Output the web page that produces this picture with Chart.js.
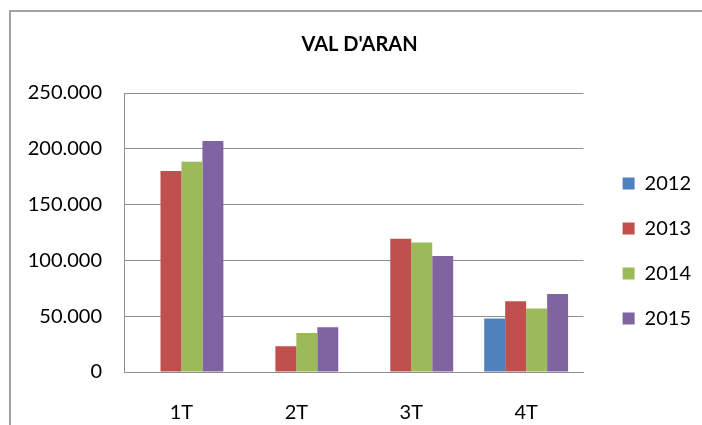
<!DOCTYPE html>
<html>
<head>
<meta charset="utf-8">
<script src="https://cdn.jsdelivr.net/npm/chart.js@4.4.1/dist/chart.umd.min.js"></script>
<style>
  html, body { margin: 0; padding: 0; background: #ffffff; }
  #wrap { position: relative; width: 702px; height: 425px; overflow: hidden; background: #fff; }
  #frame { position: absolute; left: 9px; top: 10px; width: 800px; height: 500px;
           border-left: 2px solid #a3a3a3; border-top: 2px solid #a3a3a3; box-sizing: border-box; }
  canvas { position: absolute; left: 0; top: 0; }
</style>
</head>
<body>
<div id="wrap">
  <div id="frame"></div>
  <canvas id="c" width="702" height="425"></canvas>
</div>
<script>
const chartTitle = "VAL D'ARAN";
const categories = ["1T", "2T", "3T", "4T"];
const seriesNames = ["2012", "2013", "2014", "2015"];
const values2012 = [null, null, null, 48000];
const values2013 = [180000, 23000, 119500, 63500];
const values2014 = [188500, 35000, 116000, 57000];
const values2015 = [207000, 40000, 104000, 70000];
const yTickMax = 250000;
const yTickStep = 50000;
const colors = ["#4F81BD", "#C0504D", "#9BBB59", "#8064A2"];

function fmtThousands(v) {
  return String(Math.round(v)).replace(/\B(?=(\d{3})+(?!\d))/g, ".");
}

const seriesValues = [values2012, values2013, values2014, values2015];

Chart.defaults.font.family = "Lato";
Chart.defaults.color = "#000000";

new Chart(document.getElementById("c"), {
  type: "bar",
  data: {
    labels: categories,
    datasets: seriesNames.map((name, i) => ({
      label: name,
      data: seriesValues[i],
      backgroundColor: colors[i],
      borderWidth: 0,
      categoryPercentage: 0.73,
      barPercentage: 1.0
    }))
  },
  options: {
    responsive: false,
    devicePixelRatio: 1,
    animation: false,
    layout: { padding: { left: 18, right: 1, top: 0, bottom: 0 } },
    plugins: {
      title: {
        display: true,
        text: chartTitle,
        font: { size: 20, weight: "bold", family: "Lato" },
        color: "#000000",
        padding: { top: 33, bottom: 36 }
      },
      legend: {
        display: true,
        position: "right",
        fullSize: false,
        title: { display: true, text: "", font: { size: 10 }, padding: { top: 12, bottom: 13 } },
        labels: {
          boxWidth: 12,
          boxHeight: 12,
          padding: 25,
          font: { size: 20, family: "Lato" },
          color: "#000000"
        }
      },
      tooltip: { enabled: false }
    },
    scales: {
      x: {
        grid: { display: false },
        border: { display: true, color: "#8e8e8e", width: 1 },
        ticks: { font: { size: 20 }, color: "#000000", padding: 21 },
        afterFit: (s) => { s.height = 53; }
      },
      y: {
        min: 0,
        max: yTickMax,
        grid: { color: "#8e8e8e", lineWidth: 1, drawTicks: false },
        border: { display: true, color: "#8e8e8e", width: 1 },
        ticks: {
          stepSize: yTickStep,
          font: { size: 20 },
          color: "#000000",
          padding: 22,
          callback: (v) => fmtThousands(v)
        },
        afterFit: (s) => { s.width = 106; }
      },
      y2: {
        position: "right",
        display: true,
        grid: { display: false, drawTicks: false },
        border: { display: false },
        ticks: { display: false },
        afterFit: (s) => { s.width = 14; }
      }
    }
  }
});
</script>
</body>
</html>
